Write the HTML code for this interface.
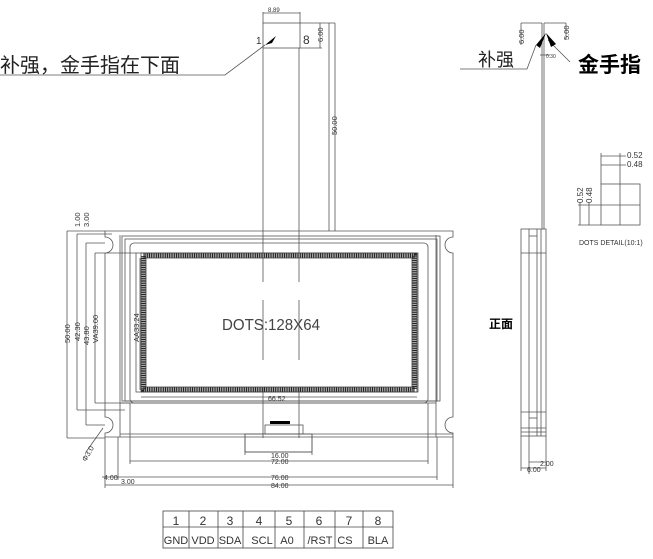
<!DOCTYPE html>
<html><head><meta charset="utf-8"><style>
html,body{margin:0;padding:0;background:#fff;}
svg{display:block;}
text{font-family:"Liberation Sans","Noto Sans CJK SC",sans-serif;}
</style></head><body>
<svg width="653" height="559" viewBox="0 0 653 559" xmlns="http://www.w3.org/2000/svg">
<rect width="653" height="559" fill="#fff"/>
<g fill="none" stroke="#555" stroke-width="0.8">
<line x1="263" y1="12" x2="263" y2="23"/>
<line x1="300" y1="12" x2="300" y2="23"/>
<line x1="263" y1="13" x2="300" y2="13"/>
<rect x="263" y="23" width="37" height="25"/>
<line x1="300" y1="23" x2="335" y2="23"/>
<line x1="300" y1="48" x2="322" y2="48"/>
<line x1="320" y1="23" x2="320" y2="48"/>
<line x1="335" y1="23" x2="335" y2="231"/>
<line x1="329" y1="23" x2="329" y2="231"/>
<line x1="263" y1="48" x2="263" y2="282"/>
<line x1="299" y1="48" x2="299" y2="282"/>
<line x1="263" y1="300" x2="263" y2="360"/>
<line x1="299" y1="300" x2="299" y2="360"/>
<line x1="263" y1="388" x2="263" y2="438"/>
<line x1="299" y1="388" x2="299" y2="438"/>
<path d="M105 231 H453 V237 A8 8 0 0 0 453 253 V417 A8 8 0 0 0 453 433 V437 H105 V433 A8 8 0 0 0 105 417 V253 A8 8 0 0 0 105 237 Z"/>
<line x1="120" y1="235" x2="120" y2="437"/>
<line x1="436" y1="235" x2="436" y2="437"/>
<rect x="122" y="236" width="318" height="165"/>
<rect x="125" y="239" width="312" height="162"/>
<rect x="130" y="243" width="298" height="160" rx="4"/>
<line x1="120" y1="403" x2="436" y2="403"/>
<line x1="120" y1="434" x2="453" y2="434"/>
<rect x="136" y="253" width="282" height="139"/>
<line x1="141" y1="392" x2="417" y2="392"/>
<line x1="141" y1="397" x2="417" y2="397"/>
<line x1="67" y1="231" x2="105" y2="231"/>
<line x1="67" y1="231" x2="67" y2="438"/>
<line x1="67" y1="438" x2="105" y2="438"/>
<line x1="77" y1="234" x2="112" y2="234"/>
<line x1="77" y1="234" x2="77" y2="410"/>
<line x1="77" y1="410" x2="125" y2="410"/>
<line x1="86" y1="243" x2="105" y2="243"/>
<line x1="86" y1="243" x2="86" y2="425"/>
<line x1="86" y1="425" x2="105" y2="425"/>
<line x1="95" y1="253" x2="136" y2="253"/>
<line x1="95" y1="253" x2="95" y2="403"/>
<line x1="95" y1="403" x2="130" y2="403"/>
<line x1="140" y1="258" x2="140" y2="390"/>
<line x1="103" y1="428" x2="86" y2="452"/>
<rect x="245" y="434" width="67" height="18"/>
<rect x="265" y="425" width="38" height="9"/>
<line x1="245" y1="434" x2="245" y2="455"/>
<line x1="312" y1="434" x2="312" y2="455"/>
<line x1="245" y1="452" x2="312" y2="452"/>
<line x1="130" y1="403" x2="130" y2="464"/>
<line x1="428" y1="403" x2="428" y2="464"/>
<line x1="130" y1="461" x2="428" y2="461"/>
<line x1="118" y1="437" x2="118" y2="480"/>
<line x1="437" y1="437" x2="437" y2="480"/>
<line x1="118" y1="477" x2="437" y2="477"/>
<line x1="105" y1="437" x2="105" y2="488"/>
<line x1="453" y1="437" x2="453" y2="488"/>
<line x1="105" y1="485" x2="453" y2="485"/>
<line x1="102" y1="477" x2="118" y2="477"/>
<rect x="521" y="229" width="25" height="207"/>
<line x1="529" y1="229" x2="529" y2="474"/>
<line x1="537" y1="229" x2="537" y2="436"/>
<line x1="541" y1="229" x2="541" y2="436"/>
<line x1="521" y1="253" x2="546" y2="253"/>
<line x1="521" y1="412" x2="546" y2="412"/>
<line x1="521" y1="428" x2="546" y2="428"/>
<line x1="521" y1="432" x2="546" y2="432"/>
<line x1="529" y1="236" x2="537" y2="236"/>
<line x1="529" y1="418" x2="537" y2="418"/>
<line x1="521" y1="436" x2="521" y2="471"/>
<line x1="546" y1="436" x2="546" y2="471"/>
<line x1="529" y1="462" x2="546" y2="462"/>
<line x1="521" y1="468" x2="546" y2="468"/>
<line x1="542" y1="23" x2="542" y2="229"/>
<line x1="544" y1="23" x2="544" y2="229"/>
<line x1="521" y1="23" x2="542" y2="23"/>
<line x1="521" y1="23" x2="521" y2="45"/>
<line x1="544" y1="23" x2="566" y2="23"/>
<line x1="566" y1="23" x2="566" y2="40"/>
<line x1="540" y1="55" x2="550" y2="55"/>
<rect x="601" y="184" width="39" height="41"/>
<line x1="620" y1="184" x2="620" y2="225"/>
<line x1="601" y1="205" x2="640" y2="205"/>
<line x1="601" y1="153" x2="601" y2="184"/>
<line x1="620" y1="153" x2="620" y2="184"/>
<line x1="601" y1="156" x2="626" y2="156"/>
<line x1="601" y1="165" x2="626" y2="165"/>
<line x1="578" y1="205" x2="601" y2="205"/>
<line x1="578" y1="225" x2="601" y2="225"/>
<line x1="580" y1="203" x2="580" y2="225"/>
<line x1="589" y1="203" x2="589" y2="225"/>
<polyline points="0,75 225,75 265,45"/>
<polyline points="460,69 527,69 536,45"/>
<line x1="548" y1="40" x2="570" y2="62"/>
</g>
<rect x="143.5" y="255.5" width="271" height="134" fill="none" stroke="#222" stroke-width="5" stroke-dasharray="1.2 0.6"/>
<rect x="141" y="253" width="276" height="139" fill="none" stroke="#444" stroke-width="0.8"/>
<rect x="146" y="258" width="266" height="129" fill="none" stroke="#444" stroke-width="0.8"/>
<g fill="#000">
<polygon points="265,45 276,36 272,43"/>
<polygon points="536,45 546,33 540,48"/>
<polygon points="546,33 556,44 551,47"/>
<rect x="270" y="421" width="20" height="3"/>
</g>
<g fill="#333">
<text x="0" y="72" font-size="20" fill="#222">补强，金手指在下面</text>
<text x="256" y="44" font-size="10">1</text>
<text x="303" y="44" font-size="12">8</text>
<text x="268" y="12" font-size="6">8.89</text>
<text x="478" y="66" font-size="18" fill="#222">补强</text>
<text x="578" y="72" font-size="21" font-weight="bold" fill="#000">金手指</text>
<text x="546" y="58" font-size="5">0.30</text>
<text x="222" y="330" font-size="16" fill="#444" textLength="98" lengthAdjust="spacingAndGlyphs">DOTS:128X64</text>
<text x="268" y="401" font-size="7">66.52</text>
<text x="271" y="458" font-size="7">16.00</text>
<text x="271" y="464" font-size="7">72.00</text>
<text x="271" y="480" font-size="7">76.00</text>
<text x="271" y="488" font-size="7">84.00</text>
<text x="104" y="480" font-size="7">4.00</text>
<text x="121" y="484" font-size="7">3.00</text>
<text x="540" y="466" font-size="7">2.00</text>
<text x="527" y="472" font-size="7">6.00</text>
<text x="627" y="158" font-size="8">0.52</text>
<text x="627" y="167" font-size="8">0.48</text>
<text x="579" y="245" font-size="7" font-family="Liberation Serif">DOTS DETAIL(10:1)</text>
<text x="489" y="328" font-size="12" font-weight="bold" fill="#000">正面</text>
<g font-size="7.5">
<text transform="translate(70,343) rotate(-90)">50.00</text>
<text transform="translate(80,341) rotate(-90)">42.30</text>
<text transform="translate(89,345) rotate(-90)">43.80</text>
<text transform="translate(98,343) rotate(-90)">VA39.00</text>
<text transform="translate(139,342) rotate(-90)">AA33.24</text>
<text transform="translate(337,135) rotate(-90)">50.00</text>
<text transform="translate(323,42) rotate(-90)">6.00</text>
<text transform="translate(80,227) rotate(-90)">1.00</text>
<text transform="translate(89,227) rotate(-90)">3.00</text>
<text transform="translate(524,44) rotate(-90)">6.00</text>
<text transform="translate(569,40) rotate(-90)">5.00</text>
<text transform="translate(583,203) rotate(-90)" font-size="8">0.52</text>
<text transform="translate(592,203) rotate(-90)" font-size="8">0.48</text>
<text transform="translate(86,462) rotate(-60)">Φ3.0</text>
</g>
</g>
<g fill="none" stroke="#444" stroke-width="0.8">
<rect x="163" y="511" width="230" height="37"/>
<line x1="163" y1="527" x2="393" y2="527"/>
<line x1="189" y1="511" x2="189" y2="548"/>
<line x1="218" y1="511" x2="218" y2="548"/>
<line x1="243" y1="511" x2="243" y2="548"/>
<line x1="275" y1="511" x2="275" y2="548"/>
<line x1="304" y1="511" x2="304" y2="548"/>
<line x1="335" y1="511" x2="335" y2="548"/>
<line x1="363" y1="511" x2="363" y2="548"/>
</g>
<g fill="#333" font-size="12" text-anchor="middle">
<text x="176" y="525">1</text><text x="203" y="525">2</text><text x="230" y="525">3</text><text x="259" y="525">4</text>
<text x="289" y="525">5</text><text x="319" y="525">6</text><text x="349" y="525">7</text><text x="378" y="525">8</text>
<g font-size="11">
<text x="176" y="544">GND</text><text x="203" y="544">VDD</text><text x="230" y="544">SDA</text><text x="262" y="544">SCL</text>
<text x="287" y="544">A0</text><text x="320" y="544">/RST</text><text x="345" y="544">CS</text><text x="378" y="544">BLA</text>
</g>
</g>
</svg>
</body></html>
